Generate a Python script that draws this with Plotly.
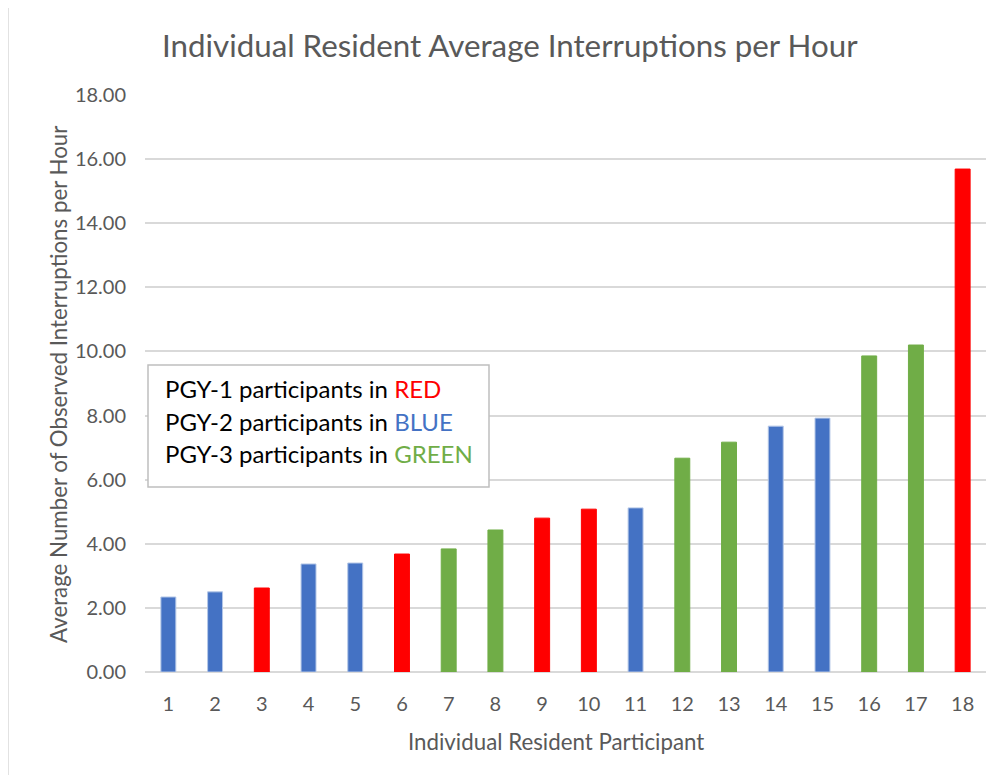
import plotly.graph_objects as go

participants = [str(i) for i in range(1, 19)]
values = [2.34, 2.50, 2.62, 3.37, 3.40, 3.68, 3.84, 4.43, 4.80, 5.08, 5.12,
          6.67, 7.17, 7.67, 7.92, 9.86, 10.20, 15.69]
pgy = [2, 2, 1, 2, 2, 1, 3, 3, 1, 1, 2, 3, 3, 2, 2, 3, 3, 1]
pgy_colors = {1: "#FF0000", 2: "#4472C4", 3: "#70AD47"}
y_ticks = [0, 2, 4, 6, 8, 10, 12, 14, 16, 18]

colors = [pgy_colors[p] for p in pgy]
line_colors = ["#B4C7E7" if p == 2 else pgy_colors[p] for p in pgy]

font_family = "Lato, 'Open Sans', sans-serif"

# screen-pixel helpers (page body has an 8px offset)
PL, PR, PT, PB = 145, 986, 95, 672
def px(x):
    return (x - PL) / (PR - PL)
def py(y):
    return (PB - y) / (PB - PT)

fig = go.Figure(go.Bar(
    x=participants, y=values,
    marker=dict(color=colors, line=dict(color=line_colors, width=1)),
))

fig.update_layout(
    width=994, height=767,
    margin=dict(l=PL - 8, r=1002 - PR, t=PT - 8, b=775 - PB),
    paper_bgcolor="white", plot_bgcolor="white",
    bargap=0.68,
    showlegend=False,
    font=dict(family=font_family, color="#595959"),
    xaxis=dict(type="category", showgrid=False, zeroline=False,
               showline=False, ticks="", ticklabelstandoff=18,
               tickfont=dict(size=20, color="#595959")),
    yaxis=dict(range=[0, 18], tickvals=y_ticks, tickformat=".2f",
               showgrid=True, gridcolor="#D9D9D9", gridwidth=1.5,
               zeroline=True, zerolinecolor="#D9D9D9", zerolinewidth=1.5,
               ticks="", ticklabelstandoff=18,
               tickfont=dict(size=20, color="#595959")),
)

# title and axis titles as annotations positioned in screen pixels
fig.add_annotation(xref="paper", yref="paper", x=px(510), y=py(45),
                   xanchor="center", yanchor="middle", showarrow=False,
                   text="Individual Resident Average Interruptions per Hour",
                   font=dict(size=31.3, color="#595959", family=font_family))
fig.add_annotation(xref="paper", yref="paper", x=px(556), y=py(741),
                   xanchor="center", yanchor="middle", showarrow=False,
                   text="Individual Resident Participant",
                   font=dict(size=22.3, color="#595959", family=font_family))
fig.add_annotation(xref="paper", yref="paper", x=px(58), y=py(385),
                   xanchor="center", yanchor="middle", showarrow=False,
                   textangle=-90,
                   text="Average Number of Observed Interruptions per Hour",
                   font=dict(size=22.3, color="#595959", family=font_family))

# outer chart border (only left/top visible in the frame)
fig.add_shape(type="rect", xref="paper", yref="paper",
              x0=px(8), x1=px(1030), y0=py(800), y1=py(6),
              line=dict(color="#D9D9D9", width=1.5), fillcolor="rgba(0,0,0,0)")

# legend box
fig.add_shape(type="rect", xref="paper", yref="paper",
              x0=px(148), x1=px(489), y0=py(487), y1=py(365),
              line=dict(color="#BFBFBF", width=1.5), fillcolor="white")

legend_lines = [
    "PGY-1 participants in <span style='color:#FF0000'>RED</span>",
    "PGY-2 participants in <span style='color:#4472C4'>BLUE</span>",
    "PGY-3 participants in <span style='color:#70AD47'>GREEN</span>",
]
legend_y = [389, 421, 453]
for txt, ly in zip(legend_lines, legend_y):
    fig.add_annotation(xref="paper", yref="paper", x=px(163), y=py(ly),
                       xanchor="left", yanchor="middle", showarrow=False,
                       text=txt, align="left",
                       font=dict(size=24, color="black", family=font_family))

fig.write_html("out.html")
